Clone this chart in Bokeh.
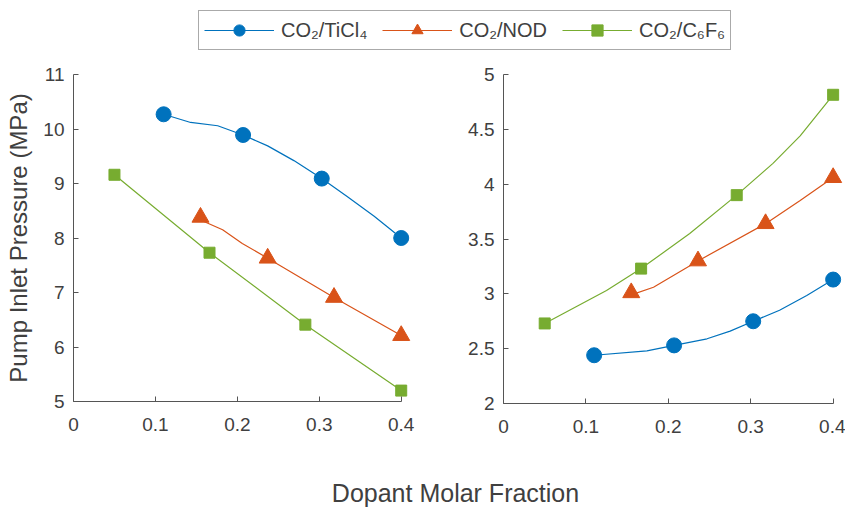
from bokeh.plotting import figure
from bokeh.layouts import column, row
from bokeh.models import Legend, LegendItem, Label, Range1d, FixedTicker
from bokeh.embed import file_html
from bokeh.resources import INLINE

# ---------------- data ----------------
series_names = ["CO\u2082/TiCl\u2084", "CO\u2082/NOD", "CO\u2082/C\u2086F\u2086"]

# Left panel: pump inlet pressure (MPa)
left_ticl4_x = [0.110, 0.207, 0.303, 0.400]
left_ticl4_y = [10.27, 9.89, 9.09, 8.00]
left_nod_x = [0.155, 0.237, 0.318, 0.400]
left_nod_y = [8.38, 7.63, 6.91, 6.21]
left_c6f6_x = [0.050, 0.166, 0.283, 0.400]
left_c6f6_y = [9.16, 7.73, 6.41, 5.20]

# vertices of the drawn (smoothed) connecting curves
left_ticl4_curve_x = [0.110, 0.143, 0.176, 0.207, 0.237, 0.269, 0.303, 0.334, 0.367, 0.400]
left_ticl4_curve_y = [10.27, 10.12, 10.06, 9.89, 9.69, 9.42, 9.09, 8.76, 8.40, 8.00]
left_nod_curve_x = [0.155, 0.182, 0.206, 0.237, 0.318, 0.400]
left_nod_curve_y = [8.33, 8.15, 7.90, 7.63, 6.91, 6.21]
left_c6f6_curve_x = [0.050, 0.166, 0.283, 0.400]
left_c6f6_curve_y = [9.16, 7.73, 6.41, 5.20]

# Right panel
right_ticl4_x = [0.110, 0.207, 0.303, 0.400]
right_ticl4_y = [2.44, 2.53, 2.75, 3.13]
right_nod_x = [0.155, 0.236, 0.318, 0.400]
right_nod_y = [3.01, 3.30, 3.64, 4.06]
right_c6f6_x = [0.050, 0.167, 0.283, 0.400]
right_c6f6_y = [2.73, 3.23, 3.90, 4.815]

right_ticl4_curve_x = [0.110, 0.174, 0.207, 0.247, 0.275, 0.303, 0.335, 0.368, 0.400]
right_ticl4_curve_y = [2.44, 2.48, 2.53, 2.59, 2.66, 2.75, 2.85, 2.985, 3.13]
right_nod_curve_x = [0.155, 0.182, 0.236, 0.318, 0.360, 0.400]
right_nod_curve_y = [2.99, 3.06, 3.30, 3.64, 3.85, 4.06]
right_c6f6_curve_x = [0.050, 0.125, 0.167, 0.226, 0.283, 0.327, 0.360, 0.400]
right_c6f6_curve_y = [2.73, 3.03, 3.23, 3.55, 3.90, 4.19, 4.44, 4.815]

x_ticks = [0, 0.1, 0.2, 0.3, 0.4]
x_tick_labels = ["0", "0.1", "0.2", "0.3", "0.4"]
left_y_ticks = [5, 6, 7, 8, 9, 10, 11]
right_y_ticks = [2, 2.5, 3, 3.5, 4, 4.5, 5]
right_y_tick_labels = ["2", "2.5", "3", "3.5", "4", "4.5", "5"]

y_label = "Pump Inlet Pressure (MPa)"
x_label = "Dopant Molar Fraction"

# ---------------- style ----------------
BLUE, ORANGE, GREEN = "#0072BD", "#D95319", "#77AC30"
colors = [BLUE, ORANGE, GREEN]
markers = ["circle", "triangle", "square"]
sizes = [15, 17, 11]
FONT = "Liberation Sans"
TXT = "#404040"
AX = "#555555"
NAN = float("nan")


def style_axes(p):
    p.outline_line_color = None
    p.xgrid.visible = False
    p.ygrid.visible = False
    for ax in (p.xaxis[0], p.yaxis[0]):
        ax.axis_line_color = AX
        ax.major_tick_line_color = AX
        ax.major_tick_in = 5
        ax.major_tick_out = 0
        ax.minor_tick_line_color = None
        ax.major_label_text_font = FONT
        ax.major_label_text_font_size = "19px"
        ax.major_label_text_color = TXT
    p.xaxis[0].major_label_standoff = 16
    p.yaxis[0].major_label_standoff = 9
    p.xaxis[0].ticker = FixedTicker(ticks=x_ticks)
    p.xaxis[0].major_label_overrides = dict(zip(x_ticks, x_tick_labels))
    p.xaxis[0].bounds = (0, 0.4)


def draw(p, xs_curve, ys_curve, xs, ys):
    for i in range(3):
        p.line(xs_curve[i], ys_curve[i], line_color=colors[i], line_width=1.2)
        p.scatter(xs[i], ys[i], marker=markers[i], size=sizes[i],
                  fill_color=colors[i], line_color=colors[i])


# ---------------- legend strip ----------------
leg_fig = figure(width=845, height=62, x_range=Range1d(0, 845), y_range=Range1d(0, 62),
                 x_axis_type=None, y_axis_type=None, min_border=0,
                 output_backend="svg", toolbar_location=None)
leg_fig.outline_line_color = None
leg_fig.xgrid.visible = False
leg_fig.ygrid.visible = False
items = []
for i in range(3):
    lr = leg_fig.line(x=[NAN], y=[NAN], line_color=colors[i], line_width=1.2)
    sr = leg_fig.scatter(x=[NAN], y=[NAN], marker=markers[i], size=sizes[i],
                         fill_color=colors[i], line_color=colors[i])
    items.append(LegendItem(label=series_names[i], renderers=[lr, sr]))
legend = Legend(items=items, orientation="horizontal", location=(198, 12),
                glyph_width=70, glyph_height=28, label_height=28,
                label_standoff=7, spacing=15, padding=5, margin=0,
                label_text_font=FONT, label_text_font_size="20px",
                label_text_color=TXT, border_line_color=AX, border_line_width=1,
                background_fill_color="white", background_fill_alpha=1)
leg_fig.add_layout(legend, "center")

# ---------------- left panel ----------------
pL = figure(frame_width=340, frame_height=327, x_range=Range1d(0, 0.415),
            y_range=Range1d(5, 11), min_border_left=73, min_border_right=10,
            min_border_top=12, min_border_bottom=49,
            output_backend="svg", toolbar_location=None)
style_axes(pL)
pL.yaxis[0].ticker = FixedTicker(ticks=left_y_ticks)
pL.yaxis[0].axis_label = y_label
pL.yaxis[0].axis_label_text_font = FONT
pL.yaxis[0].axis_label_text_font_size = "24px"
pL.yaxis[0].axis_label_text_font_style = "normal"
pL.yaxis[0].axis_label_text_color = TXT
pL.yaxis[0].axis_label_standoff = 8
draw(pL,
     [left_ticl4_curve_x, left_nod_curve_x, left_c6f6_curve_x],
     [left_ticl4_curve_y, left_nod_curve_y, left_c6f6_curve_y],
     [left_ticl4_x, left_nod_x, left_c6f6_x],
     [left_ticl4_y, left_nod_y, left_c6f6_y])

# ---------------- right panel ----------------
pR = figure(frame_width=342, frame_height=329, x_range=Range1d(0, 0.415),
            y_range=Range1d(2, 5), min_border_left=80, min_border_right=0,
            min_border_top=12, min_border_bottom=47,
            output_backend="svg", toolbar_location=None)
style_axes(pR)
pR.yaxis[0].ticker = FixedTicker(ticks=right_y_ticks)
pR.yaxis[0].major_label_overrides = dict(zip(right_y_ticks, right_y_tick_labels))
draw(pR,
     [right_ticl4_curve_x, right_nod_curve_x, right_c6f6_curve_x],
     [right_ticl4_curve_y, right_nod_curve_y, right_c6f6_curve_y],
     [right_ticl4_x, right_nod_x, right_c6f6_x],
     [right_ticl4_y, right_nod_y, right_c6f6_y])

# ---------------- shared x label strip ----------------
lab_fig = figure(width=845, height=58, x_range=Range1d(0, 845), y_range=Range1d(0, 58),
                 x_axis_type=None, y_axis_type=None, min_border=0,
                 output_backend="svg", toolbar_location=None)
lab_fig.outline_line_color = None
lab_fig.xgrid.visible = False
lab_fig.ygrid.visible = False
lab_fig.add_layout(Label(x=455, y=16, text=x_label, text_align="center",
                         text_baseline="alphabetic", text_font=FONT,
                         text_font_size="25px", text_color=TXT))

layout = column(leg_fig, row(pL, pR), lab_fig)
open("out.html", "w").write(file_html(layout, INLINE))
